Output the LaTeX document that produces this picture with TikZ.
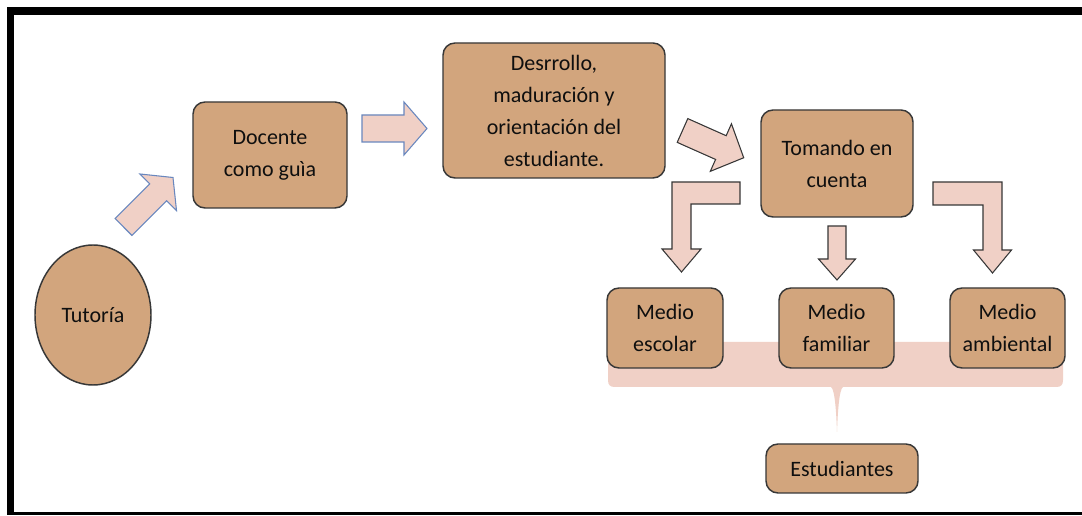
\documentclass[tikz,border=0pt]{standalone}
\usepackage{fontspec}
\setmainfont{Carlito}
\usetikzlibrary{shapes.geometric}
\definecolor{boxtan}{RGB}{210,165,125}
\definecolor{arrowpink}{RGB}{240,208,198}
\definecolor{arrowblue}{RGB}{105,135,190}
\definecolor{edgegray}{RGB}{55,55,55}
\definecolor{textblack}{RGB}{15,15,15}
\newcommand{\blockarrow}[8]{%
  \begin{scope}[shift={(#1,#2)},rotate=#3]
    \draw[#8] (0,-#5) -- ({#4-#7},-#5) -- ({#4-#7},-#6) -- (#4,0) -- ({#4-#7},#6) -- ({#4-#7},#5) -- (0,#5) -- cycle;
  \end{scope}}
\tikzset{
  box/.style={draw=edgegray, line width=1.1pt, fill=boxtan, rounded corners=9pt,
    align=center, inner sep=0pt, text=textblack, font=\fontsize{16.5}{24}\selectfont},
  bluearrow/.style={draw=arrowblue, line width=0.8pt, fill=arrowpink, line join=miter},
  grayarrow/.style={draw=edgegray, line width=0.8pt, fill=arrowpink, line join=miter},
}
\begin{document}
\begin{tikzpicture}[x=0.75pt,y=-0.75pt]
\useasboundingbox (0,0) rectangle (1082,516);
\fill[white] (0,0) rectangle (1082,516);
% frame
\draw[line width=5.5pt] (1082,11) -- (10.5,11) -- (10.5,515);
\draw[line width=2.2pt] (10.5,513.5) -- (1082,513.5);

% brace band behind the Medio boxes
\fill[arrowpink] (608,342) -- (1063,342) -- (1063,380)
  .. controls (1063,385) and (1061,387) .. (1056,387)
  -- (843,387) .. controls (839,389) and (837.6,415) .. (837,432)
  .. controls (836.4,415) and (835,389) .. (831,387)
  -- (615,387) .. controls (610,387) and (608,385) .. (608,380) -- cycle;

% nodes
\node[box, ellipse, rounded corners=0pt, minimum width=87pt, minimum height=105pt] (tutoria) at (93,315) {Tutoría};
\node[box, minimum width=115.5pt, minimum height=79.5pt] (docente) at (270,155) {Docente\\como guìa};
\node[box, minimum width=166.5pt, minimum height=101.25pt] (desarrollo) at (554,110.5) {Desrrollo,\\maduración y\\orientación del\\estudiante.};
\node[box, minimum width=114pt, minimum height=80.25pt] (tomando) at (837,163.5) {Tomando en\\cuenta};
\node[box, minimum width=87pt, minimum height=60pt] (escolar) at (665,328) {Medio\\escolar};
\node[box, minimum width=86.25pt, minimum height=60pt] (familiar) at (836.5,328) {Medio\\familiar};
\node[box, minimum width=86.25pt, minimum height=60pt] (ambiental) at (1007.5,328) {Medio\\ambiental};
\node[box, minimum width=114pt, minimum height=36.75pt] (estudiantes) at (842,468.5) {Estudiantes};

% block arrows
\blockarrow{123.5}{227}{45}{70}{12}{26}{21}{bluearrow}
\blockarrow{362}{128.5}{0}{65}{13.5}{26.5}{23}{bluearrow}
\blockarrow{682.5}{130.5}{-24}{67}{13}{26}{25}{grayarrow}
\blockarrow{837}{226}{-90}{54}{9}{18.5}{21}{grayarrow}

% bent arrows
\draw[grayarrow] (740,182) -- (672,182) -- (672,249) -- (662,249) -- (681.5,272)
  -- (701,249) -- (691,249) -- (691,204) -- (740,204) -- cycle;
\draw[grayarrow] (933,182) -- (1002,182) -- (1002,250) -- (1011.5,250) -- (992.5,273)
  -- (973.5,250) -- (983,250) -- (983,205) -- (933,205) -- cycle;
\end{tikzpicture}
\end{document}
